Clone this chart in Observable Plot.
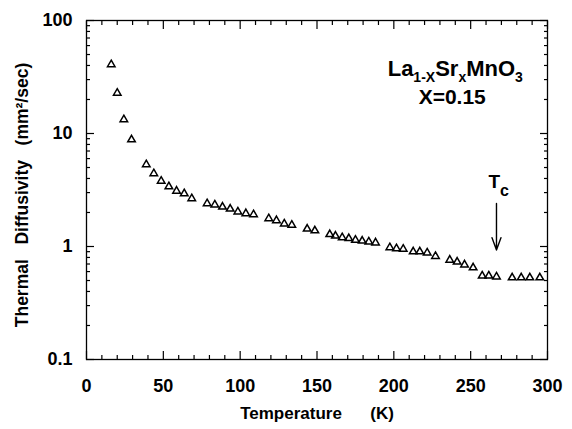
<!DOCTYPE html>
<html><head><meta charset="utf-8">
<script src="https://cdn.jsdelivr.net/npm/d3@7"></script>
<script src="https://cdn.jsdelivr.net/npm/@observablehq/plot@0.6"></script>
<style>body{margin:0;background:#fff;}</style>
</head><body><div id="chart"></div>
<script>
// Temperature (K)
const temperature = [16.1, 20.0, 24.3, 29.3, 38.9, 43.8, 48.6, 53.6, 58.6, 63.6, 68.5, 78.5, 83.5, 88.5, 93.5, 98.5, 103.7, 108.7, 118.6, 123.6, 128.7, 133.6, 143.6, 148.6, 158.3, 162.0, 166.4, 170.7, 175.0, 179.4, 183.7, 188.1, 197.4, 201.7, 206.1, 212.6, 216.9, 221.7, 227.1, 236.4, 241.2, 246.0, 251.6, 257.5, 261.8, 266.8, 277.0, 282.9, 288.5, 295.0];
// Thermal diffusivity (mm^2/sec)
const diffusivity = [40.8, 22.8, 13.3, 8.83, 5.31, 4.42, 3.80, 3.39, 3.10, 2.94, 2.66, 2.40, 2.34, 2.24, 2.15, 2.03, 1.96, 1.92, 1.77, 1.70, 1.59, 1.55, 1.43, 1.38, 1.28, 1.24, 1.20, 1.18, 1.14, 1.12, 1.10, 1.08, 0.98, 0.96, 0.95, 0.90, 0.90, 0.88, 0.82, 0.76, 0.73, 0.69, 0.65, 0.55, 0.55, 0.54, 0.53, 0.53, 0.53, 0.53];
const xTicks = [0, 50, 100, 150, 200, 250, 300];
const xMinorTicks = [10, 20, 30, 40, 60, 70, 80, 90, 110, 120, 130, 140, 160, 170, 180, 190, 210, 220, 230, 240, 260, 270, 280, 290];
const yTicks = [0.1, 1, 10, 100];
const yMinorTicks = [0.2, 0.3, 0.4, 0.5, 0.6, 0.7, 0.8, 0.9, 2, 3, 4, 5, 6, 7, 8, 9, 20, 30, 40, 50, 60, 70, 80, 90];
const xTitle = "Temperature\u00a0\u00a0\u00a0\u00a0\u00a0\u00a0(K)";
const yTitle = "Thermal\u00a0\u00a0\u00a0Diffusivity\u00a0\u00a0\u00a0(mm\u00b2/sec)";
const compoundParts = [["La", 0], ["1-X", 1], ["Sr", 0], ["x", 1], ["MnO", 0], ["3", 1]];
const dopingLabel = "X=0.15";
const tcParts = [["T", 0], ["c", 1]];

const data = temperature.map((t, i) => ({t, d: diffusivity[i]}));
const compoundRaw = compoundParts.map(p => p[0]).join("");
const tcRaw = tcParts.map(p => p[0]).join("");
const font = "'Liberation Sans', Arial, Helvetica, sans-serif";
const blank = () => "";

const chart = Plot.plot({
  width: 572, height: 429,
  marginLeft: 86, marginRight: 25, marginTop: 20, marginBottom: 70,
  style: {fontFamily: font, background: "white", color: "black"},
  x: {domain: [0, 300], label: null},
  y: {type: "log", domain: [0.1, 100], label: null},
  marks: [
    Plot.frame({stroke: "black", strokeWidth: 1.3}),
    // inward ticks, all four sides
    Plot.axisX({anchor: "bottom", ticks: xMinorTicks, tickSize: 4, dy: -4, tickFormat: blank, label: null, strokeWidth: 1.2}),
    Plot.axisX({anchor: "bottom", ticks: xTicks, tickSize: 8, dy: -8, tickFormat: blank, label: null, strokeWidth: 1.2}),
    Plot.axisX({anchor: "top", ticks: xMinorTicks, tickSize: 4, dy: 4, tickFormat: blank, label: null, strokeWidth: 1.2}),
    Plot.axisX({anchor: "top", ticks: xTicks, tickSize: 8, dy: 8, tickFormat: blank, label: null, strokeWidth: 1.2}),
    Plot.axisY({anchor: "left", ticks: yMinorTicks, tickSize: 4, dx: 4, tickFormat: blank, label: null, strokeWidth: 1.2}),
    Plot.axisY({anchor: "left", ticks: yTicks, tickSize: 8, dx: 8, tickFormat: blank, label: null, strokeWidth: 1.2}),
    Plot.axisY({anchor: "right", ticks: yMinorTicks, tickSize: 4, dx: -4, tickFormat: blank, label: null, strokeWidth: 1.2}),
    Plot.axisY({anchor: "right", ticks: yTicks, tickSize: 8, dx: -8, tickFormat: blank, label: null, strokeWidth: 1.2}),
    // tick labels
    Plot.axisX({anchor: "bottom", ticks: xTicks, tickSize: 0, tickPadding: 20, tickFormat: d => String(d), label: null, fontSize: 18, fontWeight: "bold"}),
    Plot.axisY({anchor: "left", ticks: yTicks, tickSize: 0, tickPadding: 14, tickFormat: d => String(d), label: null, fontSize: 18, fontWeight: "bold"}),
    // axis titles
    Plot.text([xTitle], {frameAnchor: "bottom", dy: 59, text: d => d, textAnchor: "middle", lineAnchor: "bottom", fontSize: 17, fontWeight: "bold"}),
    Plot.text([yTitle], {frameAnchor: "left", dx: -64, dy: 5, rotate: -90, text: d => d, textAnchor: "middle", lineAnchor: "middle", fontSize: 17.5, fontWeight: "bold"}),
    // data
    Plot.dot(data, {x: "t", y: "d", symbol: "triangle", r: 2.8, fill: "none", stroke: "black", strokeWidth: 1.5}),
    // annotations
    Plot.text([compoundRaw], {x: 196, y: 32, text: d => d, textAnchor: "start", lineAnchor: "bottom", fontSize: 22, fontWeight: "bold"}),
    Plot.text([dopingLabel], {x: 238, y: 18.1, text: d => d, textAnchor: "middle", lineAnchor: "bottom", fontSize: 21, fontWeight: "bold"}),
    Plot.text([tcRaw], {x: 261.6, y: 3.3, text: d => d, textAnchor: "start", lineAnchor: "bottom", fontSize: 19, fontWeight: "bold"}),
    Plot.arrow([0], {x1: 266.8, y1: 2.4, x2: 266.8, y2: 0.93, stroke: "black", strokeWidth: 1.4, headLength: 14, headAngle: 40})
  ]
});

// subscripts as tspans
function subscriptify(raw, parts, subSize, shift) {
  d3.select(chart).selectAll("text").filter(function() { return this.textContent === raw; }).each(function() {
    const t = d3.select(this);
    t.text(null);
    let cur = 0;
    parts.forEach(([s, sub]) => {
      const target = sub ? shift : 0;
      const ts = t.append("tspan").text(s);
      if (target !== cur) ts.attr("dy", target - cur);
      if (sub) ts.attr("font-size", subSize);
      cur = target;
    });
  });
}
subscriptify(compoundRaw, compoundParts, 14, 6);
subscriptify(tcRaw, tcParts, 16, 8);

document.getElementById("chart").appendChild(chart);
</script>
</body></html>
